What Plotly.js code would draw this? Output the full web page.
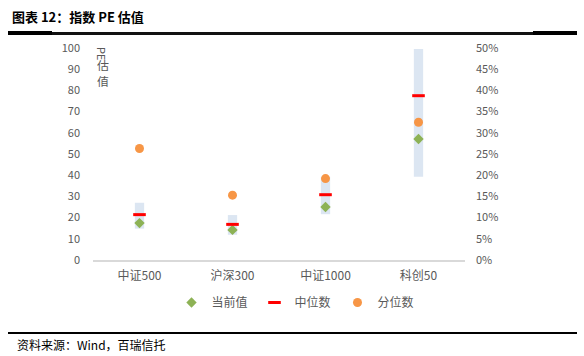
<!DOCTYPE html>
<html>
<head>
<meta charset="utf-8">
<script src="https://cdn.plot.ly/plotly-3.0.1.min.js"></script>
<style>html,body{margin:0;padding:0;background:#fff;}#chart{width:584px;height:356px;}</style>
</head>
<body>
<div id="chart"></div>
<script>
const categories = ['中证500', '沪深300', '中证1000', '科创50'];
const currentPE = [17.4, 14.2, 25.0, 57.1];
const medianPE = [21.4, 16.8, 30.8, 77.5];
const rangeMin = [14.8, 11.9, 21.6, 39.3];
const rangeMax = [27.0, 21.2, 39.3, 99.5];
const percentile = [0.263, 0.153, 0.192, 0.325];
const leftTicks = [0, 10, 20, 30, 40, 50, 60, 70, 80, 90, 100];
const rightTicks = [0, 0.05, 0.10, 0.15, 0.20, 0.25, 0.30, 0.35, 0.40, 0.45, 0.50];

const W = 584, H = 356;
const L = 93, R = 465, T = 48, B = 260;
const px = x => (x - L) / (R - L);
const py = y => (B - y) / (B - T);
const FONT = 'Noto Sans CJK SC, sans-serif';
const GRAY = '#595959';

const traces = [
  {
    type: 'bar', x: categories,
    y: rangeMax.map((v, i) => v - rangeMin[i]),
    base: rangeMin, width: 0.1,
    marker: {color: '#dce6f2'}, showlegend: false, hoverinfo: 'skip'
  },
  {
    type: 'scatter', mode: 'markers', name: '当前值', x: categories, y: currentPE,
    marker: {symbol: 'diamond', size: 8, color: '#8db255'}
  },
  {
    type: 'scatter', mode: 'markers', name: '中位数', x: categories, y: medianPE,
    marker: {symbol: 'line-ew', size: 9, color: '#ff0000', line: {color: '#ff0000', width: 3}}
  },
  {
    type: 'scatter', mode: 'markers', name: '分位数', x: categories, y: percentile, yaxis: 'y2',
    marker: {symbol: 'circle', size: 9, color: '#f79646'}
  }
];

function rect(x0, x1, y0, y1, color) {
  return {type: 'rect', xref: 'paper', yref: 'paper', x0: px(x0), x1: px(x1), y0: py(y1), y1: py(y0),
          fillcolor: color || '#000', line: {width: 0}, layer: 'above'};
}

const layout = {
  width: W, height: H,
  margin: {l: L, r: W - R, t: T, b: H - B, pad: 0},
  paper_bgcolor: '#fff', plot_bgcolor: '#fff',
  font: {family: FONT, size: 11, color: GRAY},
  barmode: 'overlay',
  showlegend: true,
  legend: {orientation: 'h', x: px(296), xanchor: 'center', y: py(288), yanchor: 'top',
           bgcolor: 'rgba(0,0,0,0)',
           font: {size: 12, color: GRAY}, itemwidth: 30, entrywidth: 38, entrywidthmode: 'pixels',
           tracegroupgap: 0},
  title: {text: '<b>图表 12：指数 PE 估值</b>', x: 12 / W, xanchor: 'left', xref: 'container',
          y: 1 - 17 / H, yanchor: 'middle', yref: 'container',
          font: {family: FONT, size: 13, color: '#000'}},
  xaxis: {type: 'category', showgrid: false, showline: true, linecolor: '#d9d9d9', linewidth: 2,
          ticks: '', tickfont: {size: 12, color: GRAY}, ticklabelstandoff: 4, zeroline: false, fixedrange: true},
  yaxis: {range: [0, 100], tickvals: leftTicks, showgrid: false, zeroline: false, showline: false,
          ticks: '', ticklabelstandoff: 12, tickfont: {size: 11, color: GRAY}},
  yaxis2: {range: [0, 0.5], tickvals: rightTicks, tickformat: '.0%', overlaying: 'y', side: 'right',
           showgrid: false, zeroline: false, showline: false, ticks: '', ticklabelstandoff: 10,
           tickfont: {size: 11, color: GRAY}},
  shapes: [
    rect(8, 577, 332, 334),
    rect(8, 577, 32, 35, '#111'),
    rect(8, 52, 31, 35),
    rect(533, 577, 31, 35)
  ],
  annotations: [
    {text: 'PE', xref: 'paper', yref: 'paper', x: px(102), y: py(53), textangle: 90, showarrow: false,
     font: {size: 11, color: GRAY}, xanchor: 'center', yanchor: 'middle'},
    {text: '估', xref: 'paper', yref: 'paper', x: px(103), y: py(65.5), showarrow: false,
     font: {size: 12, color: GRAY}, xanchor: 'center', yanchor: 'middle', height: 12},
    {text: '值', xref: 'paper', yref: 'paper', x: px(103), y: py(81), showarrow: false,
     font: {size: 12, color: GRAY}, xanchor: 'center', yanchor: 'middle', height: 12},
    {text: '资料来源：Wind，百瑞信托', xref: 'paper', yref: 'paper', x: px(15), y: py(344), showarrow: false,
     font: {size: 12, color: '#000'}, xanchor: 'left', yanchor: 'middle'}
  ]
};

Plotly.newPlot('chart', traces, layout, {displayModeBar: false, staticPlot: true});
</script>
</body>
</html>
